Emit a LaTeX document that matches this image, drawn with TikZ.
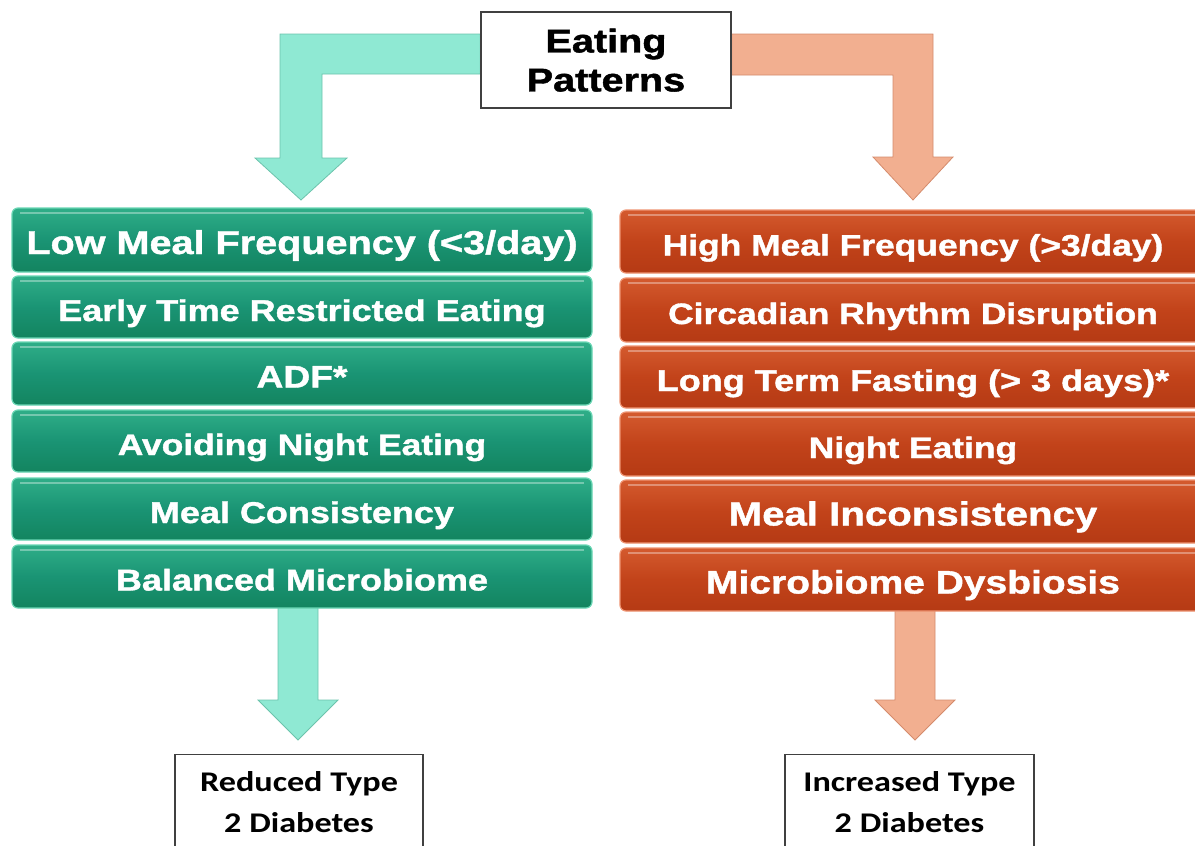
\documentclass[tikz,border=0pt]{standalone}
\usepackage{fontspec}
\setmainfont{Liberation Sans}[BoldFeatures={FakeBold=1.2}]
\newfontfamily\calib{Carlito}
\usetikzlibrary{backgrounds}
\definecolor{gmain}{HTML}{1A9474}
\definecolor{gtop}{HTML}{2FAE88}
\definecolor{gbot}{HTML}{13845F}
\definecolor{gedge}{HTML}{6AD6B4}
\definecolor{rmain}{HTML}{C2431A}
\definecolor{rtop}{HTML}{D45A2E}
\definecolor{rbot}{HTML}{B53A14}
\definecolor{redge}{HTML}{EE9472}
\definecolor{tealarrow}{HTML}{8FE9D3}
\definecolor{tealline}{HTML}{6CC3AC}
\definecolor{salarrow}{HTML}{F2AF90}
\definecolor{salline}{HTML}{D48B6C}
\newcommand{\sx}[1]{\scalebox{1.2}[1]{#1}}
\newcommand{\fs}[1]{\fontsize{#1}{#1}\selectfont}
\tikzset{
  gbox/.style={rectangle, rounded corners=6pt, inner sep=0pt, minimum width=580pt,
    top color=gtop, bottom color=gbot, middle color=gmain, draw=gedge, line width=1.2pt,
    text=white, font=\bfseries\fs{#1}, text height=28pt, text depth=0pt,
    path picture={\draw[white, opacity=0.35, line width=2.5pt]
      ([xshift=8pt,yshift=-5pt]path picture bounding box.north west) --
      ([xshift=-8pt,yshift=-5pt]path picture bounding box.north east);}},
  rbox/.style={gbox=#1, minimum width=586pt, top color=rtop, bottom color=rbot, middle color=rmain, draw=redge},
  whitebox/.style={rectangle, draw=black!75, line width=1.3pt, fill=white, inner sep=0pt, align=center},
  tealfill/.style={fill=tealarrow, draw=tealline, line width=0.8pt, line join=miter},
  salfill/.style={fill=salarrow, draw=salline, line width=0.8pt, line join=miter}
}
\begin{document}
\begin{tikzpicture}[x=1pt, y=-1pt]
\clip (0,0) rectangle (1195,846);

% top node
\node[whitebox, minimum width=250pt, minimum height=96pt, font=\bfseries\fs{33}, text depth=0pt] (top) at (606,60)
  {\sx{Eating}\\[6pt]\sx{Patterns}};

% left column
\node[gbox=33, minimum height=64pt] (l1) at (302,240) {\sx{Low Meal Frequency (<3/day)}};
\node[gbox=30, minimum height=62pt] (l2) at (302,307) {\sx{Early Time Restricted Eating}};
\node[gbox=31, minimum height=63pt] (l3) at (302,373.5) {\sx{ADF*}};
\node[gbox=29.5, minimum height=62pt] (l4) at (302,441) {\sx{Avoiding Night Eating}};
\node[gbox=30, minimum height=62pt] (l5) at (302,509) {\sx{Meal Consistency}};
\node[gbox=30, minimum height=63pt] (l6) at (302,576.5) {\sx{Balanced Microbiome}};

% right column
\node[rbox=29.5, minimum height=63pt] (r1) at (913,241.5) {\sx{High Meal Frequency (>3/day)}};
\node[rbox=29.5, minimum height=64pt] (r2) at (913,310) {\sx{Circadian Rhythm Disruption}};
\node[rbox=30, minimum height=62pt] (r3) at (913,377) {\sx{Long Term Fasting (> 3 days)*}};
\node[rbox=29.5, minimum height=64pt] (r4) at (913,444) {\sx{Night Eating}};
\node[rbox=33.5, minimum height=63pt] (r5) at (913,511.5) {\sx{Meal Inconsistency}};
\node[rbox=32.5, minimum height=63pt] (r6) at (913,579.5) {\sx{Microbiome Dysbiosis}};

% bottom boxes
\node[whitebox, minimum width=248pt, minimum height=106pt, anchor=north] (bl) at (299,754) {};
\node[font=\calib\bfseries\fs{28.5}, align=center, anchor=north] (blt) at (bl.north) {\rule{0pt}{34pt}\sx{Reduced Type}\\[12pt]\sx{2 Diabetes}};
\node[whitebox, minimum width=249pt, minimum height=106pt, anchor=north] (br) at (909.5,754) {};
\node[font=\calib\bfseries\fs{28.5}, align=center, anchor=north] (brt) at (br.north) {\rule{0pt}{34pt}\sx{Increased Type}\\[12pt]\sx{2 Diabetes}};

\begin{scope}[on background layer]
% top left bent arrow
\filldraw[tealfill] (top.west |- 0,34) -- (280,34) -- (280,158) -- (255,158) -- (301,200)
  -- (347,158) -- (322,158) -- (322,74) -- (top.west |- 0,74) -- cycle;
% top right bent arrow
\filldraw[salfill] (top.east |- 0,34) -- (933,34) -- (933,157) -- (953,157) -- (913,200)
  -- (873,157) -- (893,157) -- (893,75) -- (top.east |- 0,75) -- cycle;
% bottom left arrow
\filldraw[tealfill] (278,600) -- (318,600) -- (318,700) -- (338,700) -- (298,740)
  -- (258,700) -- (278,700) -- cycle;
% bottom right arrow
\filldraw[salfill] (895,600) -- (935,600) -- (935,700) -- (955,700) -- (915,740)
  -- (875,700) -- (895,700) -- cycle;
\end{scope}
\end{tikzpicture}
\end{document}
